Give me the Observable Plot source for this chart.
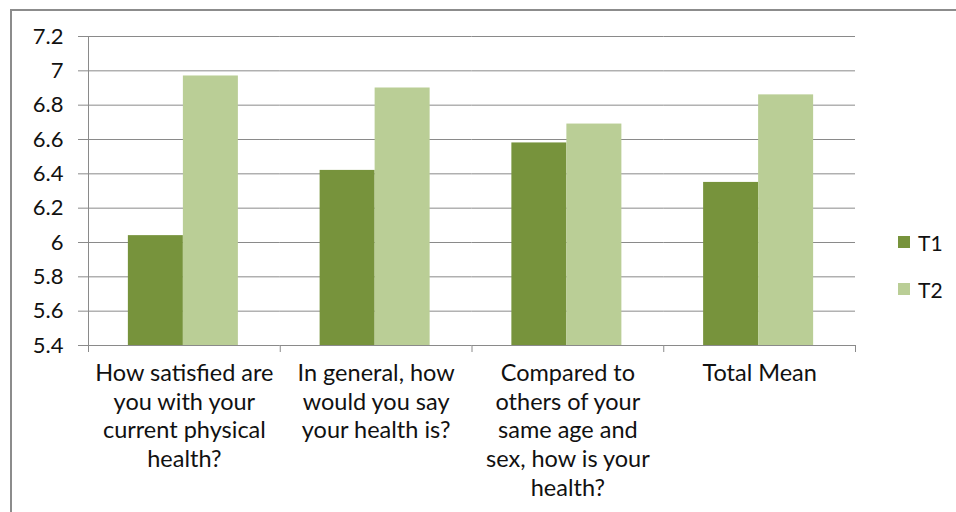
<!DOCTYPE html>
<html>
<head>
<meta charset="utf-8">
<script src="https://cdn.jsdelivr.net/npm/d3@7"></script>
<script src="https://cdn.jsdelivr.net/npm/@observablehq/plot@0.6"></script>
<style>
  body { margin: 0; background: #fff; }
  #wrap { position: relative; width: 956px; height: 512px; overflow: hidden; font-family: Lato, "Open Sans", sans-serif; background:#fff; }
  #border { position: absolute; left: 10px; top: 9px; width: 980px; height: 540px; border-left: 2px solid #8c8c8c; border-top: 2px solid #8c8c8c; pointer-events:none; }
  #chart { position: absolute; left: 0; top: 0; }
  #legend { position: absolute; left: 898px; top: 229px; font-size: 21px; color: #111; }
  .item { display: flex; align-items: center; height: 26px; margin-bottom: 21px; }
  .sw { width: 12px; height: 12px; margin-right: 8px; }
</style>
</head>
<body>
<div id="wrap">
  <div id="chart"></div>
  <div id="border"></div>
  <div id="legend"></div>
</div>
<script>
const categories = [
  "How satisfied are you with your current physical health?",
  "In general, how would you say your health is?",
  "Compared to others of your same age and sex, how is your health?",
  "Total Mean"
];
const categoryLines = [
  ["How satisfied are", "you with your", "current physical", "health?"],
  ["In general, how", "would you say", "your health is?"],
  ["Compared to", "others of your", "same age and", "sex, how is your", "health?"],
  ["Total Mean"]
];
const series = ["T1", "T2"];
const t1Values = [6.04, 6.42, 6.58, 6.35];
const t2Values = [6.97, 6.90, 6.69, 6.86];
const yTicks = [5.4, 5.6, 5.8, 6, 6.2, 6.4, 6.6, 6.8, 7, 7.2];
const yDomain = [5.4, 7.2];
const colors = ["#77933C", "#BACE96"];

const rows = categories.flatMap((c, i) => [
  {category: c, series: "T1", value: t1Values[i]},
  {category: c, series: "T2", value: t2Values[i]}
]);

const gray = "#8a8a8a";

const plot = Plot.plot({
  width: 956,
  height: 512,
  marginLeft: 88,
  marginRight: 101,
  marginTop: 36,
  marginBottom: 167,
  style: {fontFamily: "Lato, 'Open Sans', sans-serif", background: "transparent", color: "#111"},
  fx: {domain: categories, padding: 0, round: false, axis: null},
  x: {domain: series, paddingInner: 0, paddingOuter: 0.743, round: false, axis: null},
  y: {domain: yDomain, axis: null},
  color: {domain: series, range: colors},
  marks: [
    Plot.gridY(yTicks, {stroke: gray, strokeOpacity: 1}),
    Plot.barY(rows, {fx: "category", x: "series", y1: yDomain[0], y2: "value", fill: "series", dx: -1}),
    Plot.axisY(yTicks, {tickSize: 10, tickPadding: 15, fontSize: 22, stroke: gray, strokeOpacity: 1, label: null, tickFormat: d => String(d)}),
    Plot.axisFx({anchor: "bottom", tickSize: 0, tickPadding: 15, fontSize: 23.5, lineHeight: 1.22, label: null,
      tickFormat: d => categoryLines[categories.indexOf(d)].join("\n")})
  ]
});
document.getElementById("chart").appendChild(plot);

// axis lines drawn from the plot's own scales
const fx = plot.scale("fx");
const ys = plot.scale("y");
const svg = d3.select(plot);
const bw = fx.bandwidth;
const yBottom = ys.apply(yDomain[0]);
const yTop = ys.apply(yDomain[1]);
const g = svg.append("g").attr("stroke", gray).attr("stroke-width", 1);
const x0 = fx.apply(categories[0]);
g.append("line").attr("x1", x0 + 0.5).attr("x2", x0 + 0.5).attr("y1", yTop).attr("y2", yBottom);
const edges = categories.map(c => fx.apply(c)).concat([fx.apply(categories[categories.length - 1]) + bw]);
edges.forEach(x => {
  g.append("line").attr("x1", x + 0.5).attr("x2", x + 0.5).attr("y1", yBottom).attr("y2", yBottom + 7);
});

// legend
const legend = d3.select("#legend");
series.forEach((s, i) => {
  const it = legend.append("div").attr("class", "item");
  it.append("div").attr("class", "sw").style("background", colors[i]);
  it.append("span").text(s);
});
</script>
</body>
</html>
